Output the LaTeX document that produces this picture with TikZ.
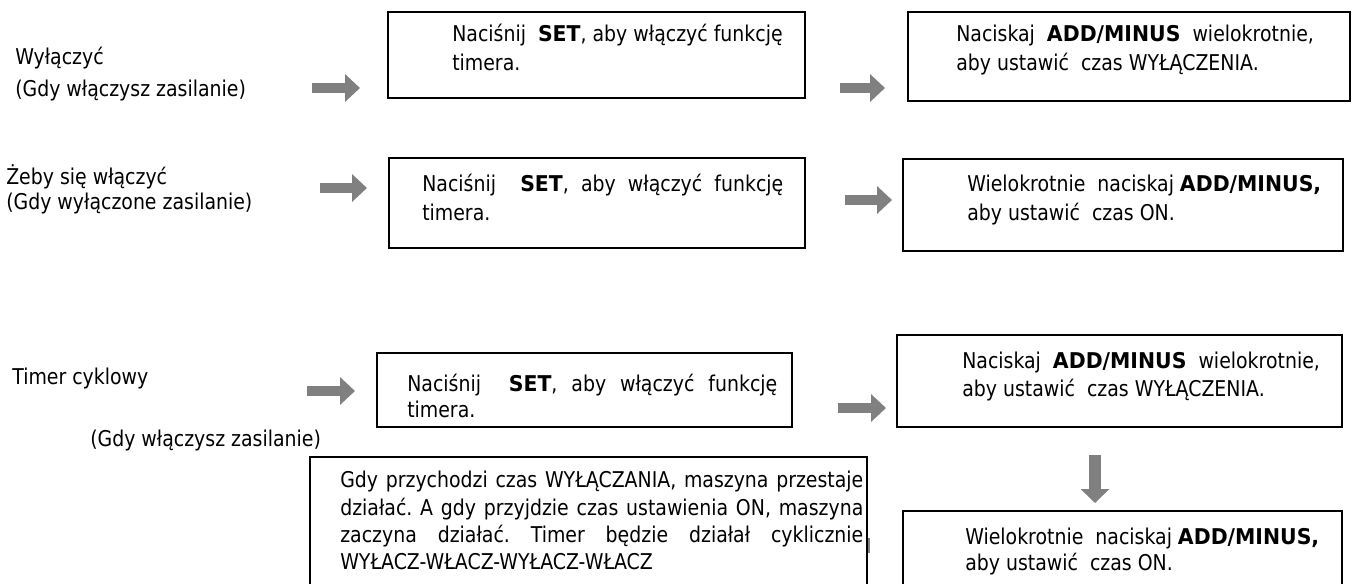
\documentclass[tikz,border=0pt]{standalone}
\usepackage{fontspec}
\setmainfont{DejaVu Sans}[FakeStretch=0.87, BoldFeatures={FakeStretch=0.94}]
\usetikzlibrary{arrows.meta,fit}
\definecolor{arrowgray}{RGB}{128,128,128}
\tikzset{
  box/.style={draw=black, line width=1.1pt, inner sep=0pt},
  txt/.style={anchor=base west, inner sep=0pt, font=\fontsize{16.3}{19}\selectfont\frenchspacing},
  harrow/.style={draw=arrowgray, line width=7.5pt, -{Triangle[width=20.25pt,length=11.25pt]}},
  varrow/.style={draw=arrowgray, line width=9.5pt, -{Triangle[width=21pt,length=10.5pt]}},
  tick/.style={draw=arrowgray, line width=1.5pt}
}
\begin{document}
\begin{tikzpicture}[x=0.75pt,y=-0.75pt]
\useasboundingbox (0,0) rectangle (1352,583);
\clip (0,0) rectangle (1352,583);

% ---------- row 1 ----------
\node[txt] (l1a) at (15,64) {Wyłączyć};
\node[txt] (l1b) at (15,96) {(Gdy włączysz zasilanie)};
\node[box, fit={(388,12) (805,98)}] (A1) {};
\node[txt] (A1a) at (452,41) {Naciśnij\ \ \textbf{SET}, aby włączyć funkcję};
\node[txt] (A1b) at (452,70) {timera.};
\node[box, fit={(908,12) (1350,101)}] (A2) {};
\node[txt] (A2a) at (956,41) {Naciskaj\ \ \textbf{ADD/MINUS}\ \ wielokrotnie,};
\node[txt] (A2b) at (956,70) {aby ustawić\ \ czas WYŁĄCZENIA.};
\coordinate (a1s) at (312,88); \coordinate (a1e) at (360,88);
\coordinate (a2s) at (840,88); \coordinate (a2e) at (885,88);
\draw[harrow] (a1s) -- (a1e);
\draw[harrow] (a2s) -- (a2e);

% ---------- row 2 ----------
\node[txt] (l2a) at (6,184) {Żeby się włączyć};
\node[txt] (l2b) at (6,209) {(Gdy wyłączone zasilanie)};
\node[box, fit={(389,158) (805,248)}] (B1) {};
\node[txt] (B1a) at (422,191) {\makebox[270.75pt][s]{Naciśnij\ \ \textbf{SET}, aby włączyć funkcję}};
\node[txt] (B1b) at (422,220) {timera.};
\node[box, fit={(903,159) (1343,251)}] (B2) {};
\node[txt] (B2a) at (967,191) {Wielokrotnie\ \ naciskaj \textbf{ADD/MINUS,}};
\node[txt] (B2b) at (967,220) {aby ustawić\ \ czas ON.};
\coordinate (b1s) at (320,188); \coordinate (b1e) at (367,188);
\coordinate (b2s) at (845,200); \coordinate (b2e) at (892,200);
\draw[harrow] (b1s) -- (b1e);
\draw[harrow] (b2s) -- (b2e);

% ---------- row 3 ----------
\node[txt] (l3a) at (12,384) {Timer cyklowy};
\node[txt] (l3b) at (90,446) {(Gdy włączysz zasilanie)};
\node[box, fit={(377,353) (792,427)}] (C1) {};
\node[txt] (C1a) at (407,391) {\makebox[277.5pt][s]{Naciśnij\ \ \textbf{SET}, aby włączyć funkcję}};
\node[txt] (C1b) at (407,417) {timera.};
\node[box, fit={(897,335) (1342,427)}] (C2) {};
\node[txt] (C2a) at (962,368) {Naciskaj\ \ \textbf{ADD/MINUS}\ \ wielokrotnie,};
\node[txt] (C2b) at (962,396) {aby ustawić\ \ czas WYŁĄCZENIA.};
\coordinate (c1s) at (307,391); \coordinate (c1e) at (355,391);
\coordinate (c2s) at (838,408); \coordinate (c2e) at (886,408);
\draw[harrow] (c1s) -- (c1e);
\draw[harrow] (c2s) -- (c2e);

% big text box (bottom cut off)
\node[box, fit={(310,457) (867,600)}] (D) {};
\node[txt] (Da) at (340,487) {\makebox[392.25pt][s]{Gdy przychodzi czas WYŁĄCZANIA, maszyna przestaje}};
\node[txt] (Db) at (340,515) {\makebox[392.25pt][s]{działać. A gdy przyjdzie czas ustawienia ON, maszyna}};
\node[txt] (Dc) at (340,542) {\makebox[392.25pt][s]{zaczyna działać. Timer będzie działał cyklicznie}};
\node[txt] (Dd) at (340,569) {WYŁACZ-WŁACZ-WYŁACZ-WŁACZ};
\coordinate (tk1) at (869,538); \coordinate (tk2) at (869,553);
\draw[tick] (tk1) -- (tk2);

% down arrow and last box
\coordinate (ds) at (1095,455); \coordinate (de) at (1095,503);
\draw[varrow] (ds) -- (de);
\node[box, fit={(903,511) (1342,600)}] (E) {};
\node[txt] (Ea) at (965,544) {Wielokrotnie\ \ naciskaj \textbf{ADD/MINUS,}};
\node[txt] (Eb) at (965,570) {aby ustawić\ \ czas ON.};
\end{tikzpicture}
\end{document}
